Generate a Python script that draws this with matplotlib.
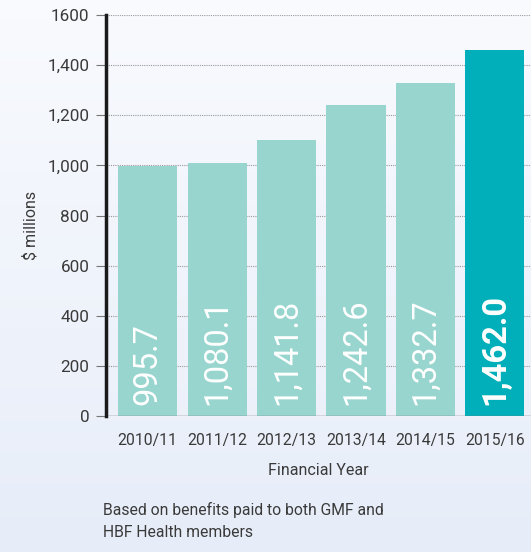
import numpy as np
import matplotlib
matplotlib.use('Agg')
import matplotlib.pyplot as plt

# ----------------------------------------------------------------------
# DATA
# ----------------------------------------------------------------------
years = ['2010/11', '2011/12', '2012/13', '2013/14', '2014/15', '2015/16']
bar_heights = [996, 1010, 1101, 1241, 1329, 1462]
bar_labels = ['995.7', '1,080.1', '1,141.8', '1,242.6', '1,332.7', '1,462.0']
y_ticks = [0, 200, 400, 600, 800, 1000, 1200, 1400, 1600]
y_tick_labels = ['0', '200', '400', '600', '800', '1,000', '1,200', '1,400', '1600']

LIGHT = '#98D5CF'
DARK = '#00AFB9'
TEXT = '#3a3a3a'

plt.rcParams['font.family'] = ['Roboto', 'DejaVu Sans']

fig = plt.figure(figsize=(5.31, 5.52), dpi=100)

# soft background gradient
bg = fig.add_axes([0, 0, 1, 1], zorder=-1)
grad = np.linspace(0, 1, 256).reshape(-1, 1)
top = np.array([0.975, 0.982, 0.995])
bot = np.array([0.905, 0.930, 0.975])
img = top + (bot - top) * grad[:, :, None]
bg.imshow(img, aspect='auto', extent=[0, 1, 0, 1])
bg.axis('off')

ax = fig.add_axes([0.1996, 0.2464, 0.8004, 0.7264])
ax.set_facecolor('none')

x = np.arange(len(years))
colors = [LIGHT] * (len(years) - 1) + [DARK]
ax.bar(x, bar_heights, width=0.85, color=colors, zorder=2)

for i, lab in enumerate(bar_labels):
    ax.text(x[i], 42, lab, rotation=90, ha='center', va='bottom',
            color='white', fontsize=23.5,
            fontweight='bold' if i == len(years) - 1 else 'normal', zorder=3)

ax.set_xlim(-0.6, 5.52)
ax.set_ylim(0, 1600)
ax.set_yticks(y_ticks)
ax.set_yticklabels(y_tick_labels, fontsize=12.3, color=TEXT)
ax.set_xticks(x)
ax.set_xticklabels(years, fontsize=11.3, color=TEXT)
ax.tick_params(axis='x', length=0, pad=12)
ax.tick_params(axis='y', length=7, width=0.8, color='#777777', pad=5)

ax.grid(axis='y', color='#9a9a9a', linestyle=(0, (1, 1)), linewidth=0.8, zorder=1)
ax.axhline(0, color='#777777', linewidth=1.0, zorder=3)
for s in ['top', 'right', 'bottom']:
    ax.spines[s].set_visible(False)
ax.spines['left'].set_linewidth(2.5)
ax.spines['left'].set_color('#1a1a1a')
ax.spines['left'].set_zorder(4)

ax.set_ylabel('$ millions', fontsize=11.5, color=TEXT)
ax.yaxis.set_label_coords(-0.158, 0.476)
ax.set_xlabel('Financial Year', fontsize=11.5, color=TEXT, labelpad=11)

fig.text(103 / 531, 1 - 521 / 552, 'Based on benefits paid to both GMF and\nHBF Health members',
         fontsize=11.3, color=TEXT, ha='left', va='center', linespacing=1.55)

fig.savefig('out.png', dpi=100)
